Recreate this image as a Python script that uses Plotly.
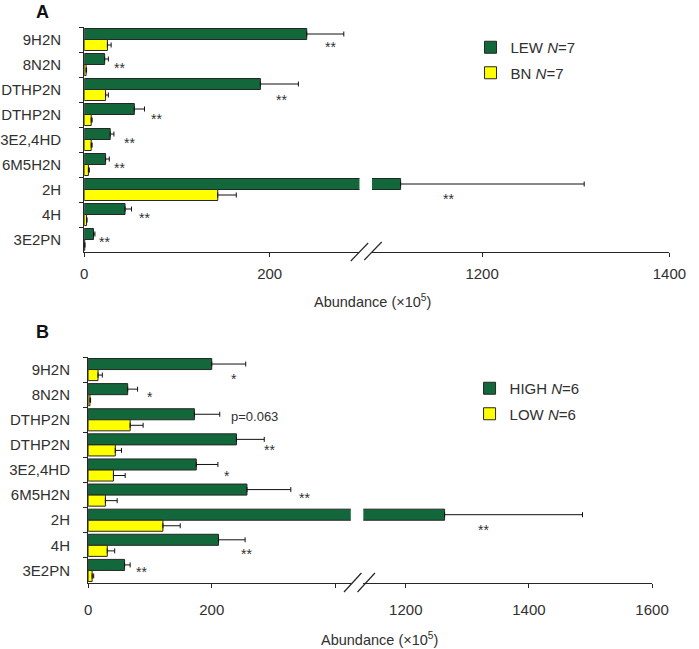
import plotly.graph_objects as go

# ---------------- data ----------------
categories = ["9H2N", "8N2N", "DTHP2N", "DTHP2N", "3E2,4HD", "6M5H2N", "2H", "4H", "3E2PN"]

lew_mean = [240, 22, 190, 54, 28, 23, 1113, 44, 10]
lew_err = [40, 4, 41, 11, 4, 4, 196, 7, 1.5]
bn_mean = [25, 2, 23, 7.5, 7.5, 4.5, 144, 2.5, 0.5]
bn_err = [4, 0.5, 3, 1, 1, 1, 20, 0.5, 0.2]

high_mean = [200, 64, 172, 240, 175, 257, 1263, 211, 59]
high_err = [55, 16, 41, 45, 35, 71, 224, 43, 9]
low_mean = [16, 3, 68, 44, 41, 28, 121, 31, 6.5]
low_err = [7, 1, 21, 10, 19, 19, 28, 12, 2.5]

sig_a = ["**", "**", "**", "**", "**", "**", "**", "**", "**"]
sig_b = ["*", "*", "p=0.063", "**", "*", "**", "**", "**", "**"]

names_a = ["LEW <i>N</i>=7", "BN <i>N</i>=7"]
names_b = ["HIGH <i>N</i>=6", "LOW <i>N</i>=6"]
axis_title = "Abundance (×10<sup>5</sup>)"

# ---------------- layout / style ----------------
W, H = 699, 649
GREEN = "#13683b"
YELLOW = "#ffff00"
EDGE = "#262626"
TXT = "#303030"
FONT = "Liberation Sans, Arial, sans-serif"


def fx(px):
    return px / W


def fy(py):
    return 1 - py / H


# unique keys so duplicated labels get their own rows
keys = []
for i, c in enumerate(categories):
    keys.append(c + "\u200b" * categories[:i].count(c))

panels = [
    dict(means=(lew_mean, bn_mean), errs=(lew_err, bn_err), names=names_a, legend="legend",
         xl="x", xr="x2", y="y",
         left_dom=(80, 365), right_dom=(378, 686), ydom=(27, 252),
         left_range=[0, 296.9], right_range=[1082.5, 1400],
         left_ticks=[0, 200], minor_ticks=[], right_ticks=[1200, 1400],
         tl_stand=4, yl_stand=19),
    dict(means=(high_mean, low_mean), errs=(high_err, low_err), names=names_b, legend="legend2",
         xl="x3", xr="x4", y="y2",
         left_dom=(84, 356), right_dom=(369, 668), ydom=(357, 583),
         left_range=[0, 425], right_range=[1131, 1600],
         left_ticks=[0, 200], minor_ticks=[400], right_ticks=[1200, 1400, 1600],
         tl_stand=9, yl_stand=14),
]

fig = go.Figure()

for p in panels:
    for side in ("l", "r"):
        xa = p["xl"] if side == "l" else p["xr"]
        rng = p["left_range"] if side == "l" else p["right_range"]
        for k, (m, e, nm, col) in enumerate(zip(p["means"], p["errs"], p["names"], (GREEN, YELLOW))):
            # only draw each error bar in the segment that holds the bar end
            earr = [ei if (rng[0] <= mi <= rng[1]) else None for mi, ei in zip(m, e)]
            fig.add_trace(go.Bar(
                x=m, y=keys, orientation="h", name=nm,
                xaxis=xa, yaxis=p["y"],
                marker=dict(color=col, line=dict(color=EDGE, width=1)),
                error_x=dict(type="data", array=earr, symmetric=False, arrayminus=[0] * len(m),
                             color="#111111", thickness=1, width=2.5),
                showlegend=(side == "l"), legend=p["legend"],
                legendgroup=p["legend"] + str(k),
            ))

layout = dict(
    width=W, height=H, autosize=False,
    margin=dict(l=0, r=0, t=0, b=0),
    paper_bgcolor="white", plot_bgcolor="white",
    barmode="group", bargap=0.12, bargroupgap=0.0,
    font=dict(family=FONT, size=15, color=TXT),
)

axis_common = dict(showline=True, linecolor=EDGE, linewidth=1.2, showgrid=False, zeroline=False,
                   ticks="outside", ticklen=4, tickcolor=EDGE, tickwidth=1,
                   tickfont=dict(size=15, color=TXT), fixedrange=True)

for p in panels:
    xl_name = "xaxis" if p["xl"] == "x" else "xaxis" + p["xl"][1:]
    xr_name = "xaxis" + p["xr"][1:]
    y_name = "yaxis" if p["y"] == "y" else "yaxis" + p["y"][1:]
    xl = dict(axis_common, domain=[fx(p["left_dom"][0]), fx(p["left_dom"][1])],
              range=p["left_range"], anchor=p["y"], tickmode="array",
              tickvals=p["left_ticks"], ticklabelstandoff=p["tl_stand"])
    if p["minor_ticks"]:
        xl["minor"] = dict(tickmode="array", tickvals=p["minor_ticks"], ticks="outside",
                           ticklen=4, tickcolor=EDGE, tickwidth=1, showgrid=False)
    layout[xl_name] = xl
    layout[xr_name] = dict(axis_common, domain=[fx(p["right_dom"][0]), fx(p["right_dom"][1])],
                           range=p["right_range"], anchor=p["y"], tickmode="array",
                           tickvals=p["right_ticks"], ticklabelstandoff=p["tl_stand"])
    layout[y_name] = dict(axis_common, domain=[fy(p["ydom"][1]), fy(p["ydom"][0])],
                          anchor=p["xl"], type="category", categoryorder="array",
                          categoryarray=keys, range=[len(keys) - 0.5, -0.5],
                          tickson="boundaries", ticklabelstandoff=p["yl_stand"])

layout["legend"] = dict(x=fx(480), y=fy(31), xanchor="left", yanchor="top",
                        bgcolor="rgba(0,0,0,0)", font=dict(size=15, color=TXT),
                        tracegroupgap=3, itemclick=False)
layout["legend2"] = dict(x=fx(479), y=fy(372), xanchor="left", yanchor="top",
                         bgcolor="rgba(0,0,0,0)", font=dict(size=15, color=TXT),
                         tracegroupgap=3, itemclick=False)

fig.update_layout(**layout)

# ---------- significance labels (label anchor positions in data units, px shifts) ----------
star_pos_a = [(266, 5.5), (38.5, 1.5), (213, 8.5), (78, 2.5), (49, 1.5), (38, 1.5), (1164, 7.5), (65, 1.5), (22, 0)]
star_pos_b = [(236, 7), (100, 0), (228, -3.5), (294, 3.5), (224, 3.5), (350, 0.5), (1327, 7.5), (256, 6.5), (86, 0)]

for p, sigs, pos in ((panels[0], sig_a, star_pos_a), (panels[1], sig_b, star_pos_b)):
    for key, s, (xv, dy) in zip(keys, sigs, pos):
        xa = p["xl"] if xv <= p["left_range"][1] else p["xr"]
        is_star = s.startswith("*")
        fig.add_annotation(
            x=xv, y=key, xref=xa, yref=p["y"], text=s, showarrow=False,
            xanchor="center" if is_star else "left", yanchor="middle",
            yshift=-(dy + 2) if is_star else -dy,
            font=dict(size=14 if is_star else 13, color=TXT),
        )

# axis titles
fig.add_annotation(x=fx(378), y=fy(301), xref="paper", yref="paper", text=axis_title,
                   showarrow=False, font=dict(size=14.5, color=TXT), xanchor="center", yanchor="middle")
fig.add_annotation(x=fx(386), y=fy(639), xref="paper", yref="paper", text=axis_title,
                   showarrow=False, font=dict(size=14.5, color=TXT), xanchor="center", yanchor="middle")

# panel letters
fig.add_annotation(x=fx(37), y=1.0, xref="paper", yref="paper", text="<b>A</b>",
                   showarrow=False, font=dict(size=18, color="#111111"), xanchor="center", yanchor="top")
fig.add_annotation(x=fx(37), y=fy(332), xref="paper", yref="paper", text="<b>B</b>",
                   showarrow=False, font=dict(size=18, color="#111111"), xanchor="center", yanchor="middle")

# axis break marks (two parallel slashes per panel)
for (x0, y0, x1, y1) in [(356, 261, 374, 243), (370, 260, 388, 242),
                         (349, 592, 367, 573), (363, 592, 381, 573)]:
    fig.add_shape(type="line", xref="paper", yref="paper",
                  x0=fx(x0), y0=fy(y0), x1=fx(x1), y1=fy(y1),
                  line=dict(color=EDGE, width=1.2))

fig.write_html("out.html", config={"displayModeBar": False},
               post_script="document.body.style.margin='0';document.body.style.overflow='hidden';")
